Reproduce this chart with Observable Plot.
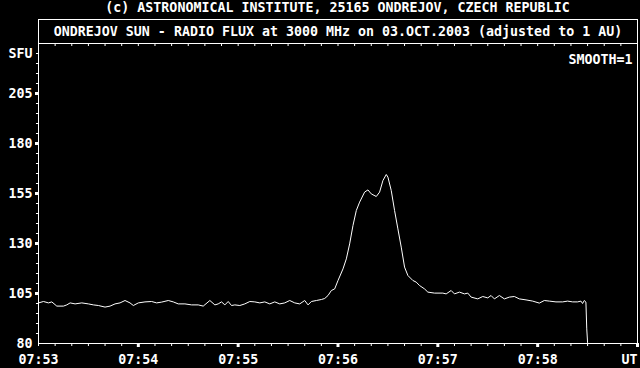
<!DOCTYPE html>
<html><head><meta charset="utf-8">
<script src="https://cdn.jsdelivr.net/npm/d3@7"></script>
<script src="https://cdn.jsdelivr.net/npm/@observablehq/plot@0.6"></script>
<style>
html,body{margin:0;padding:0;background:#000;}
#chart{width:640px;height:368px;background:#000;color:#fff;font-family:"DejaVu Sans Mono",monospace;font-weight:bold;font-size:13.3px;overflow:hidden}
#title{height:19px;line-height:16px;text-align:center;padding-left:38px;padding-right:3px;white-space:pre}
#sub{margin-left:38px;width:598px;height:23px;border:1px solid #fff;border-bottom:none;line-height:23px;text-align:center;white-space:pre}
svg{display:block}
</style>
</head><body>
<div id="chart">
<div id="title">(c) ASTRONOMICAL INSTITUTE, 25165 ONDREJOV, CZECH REPUBLIC</div>
<div id="sub">ONDREJOV SUN - RADIO FLUX at 3000 MHz on 03.OCT.2003 (adjusted to 1 AU)</div>
</div>
<script>
// seconds after 07:53:00 UT
const seconds = [0,3,6,8,11,15,17,19,22,26,30,33,36,40,43,46,49,52,55,57,60,64,68,71,74,78,81,84,88,92,96,99,103,106,108,110,112,114,116,118,121,124,127,130,133,136,139,142,145,148,151,154,157,160,162,164,167,170,172,174,176,178,180,183,185,187,189,191,193,196,198,200,203,205,207,209,210,212,214,216,218,220,222,225,227,229,232,234,238,243,245,248,250,253,256,258,260,264,267,270,272,274,277,280,283,286,289,293,297,301,304,307,311,315,318,321,324,326,327,328,329,329.5,330];
// flux in SFU
const flux = [100.3,101,100.3,100.8,98.7,98.7,99.3,100.3,99.8,100.3,99.8,99.3,99,98.2,98.7,99.8,100.3,101.5,100.3,99,100.3,100.8,101,100.3,100.7,101.5,100.8,99.8,99.8,99.3,99.3,98.7,101.5,99.3,99.8,100.8,99.3,101,99,99.3,99,99.8,101,100.8,100.3,100.8,99.8,100.8,99.8,100.3,101.5,100.3,99.8,101.5,99.3,101,101.5,102,102.5,104,106.5,107.3,111.5,117.3,122.3,129.8,139,146.5,150.7,155.7,156.8,154.8,153.5,155.7,161.5,164.5,163.2,156.5,146.5,137.3,128.2,118.2,114,111.5,110.7,109,107.3,105.7,105.2,105.2,104.8,106.5,104.8,105.7,104.8,105.2,103.2,102.3,103.5,102.8,104,102.3,104,102.3,103.2,103.5,102.3,101.8,101.2,100.2,101.5,101.2,100.8,100.8,101.2,100.8,100.8,101.2,100,101.5,100.7,87.3,80.5];
const yLabelTicks = [80,105,130,155,180,205,225];
const yMajorTicks = [105,130,155,180,205];
const yMinorTicks = d3.range(85,230,5);
const xLabelMinutes = [53,54,55,56,57,58];
const xMajorMinutes = [54,55,56,57,58,59];
const unitLabel = "SFU";
const timeUnit = "UT";
const smoothLabel = "SMOOTH=1";

const t0 = Date.UTC(2003,9,3,7,53,0);
const T = s => new Date(t0 + s*1000);
const data = seconds.map((s,i) => ({t: T(s), v: flux[i]}));
const minute = m => new Date(Date.UTC(2003,9,3,7,m,0));
const xMinor = d3.range(0, 361, 10).map(T);

const font = {fontSize: 13.3, fontWeight: "bold", fontFamily: "DejaVu Sans Mono"};

const chart = Plot.plot({
  width: 640, height: 325,
  marginLeft: 38, marginRight: 3, marginTop: 0, marginBottom: 25,
  style: {background: "black", color: "white", fontFamily: "DejaVu Sans Mono", fontSize: "13.3px", fontWeight: "bold"},
  x: {type: "utc", domain: [minute(53), minute(59)], label: null},
  y: {domain: [80, 230], label: null},
  marks: [
    Plot.axisY({ticks: yMinorTicks, tickSize: 2, fill: "none", stroke: "white", label: null}),
    Plot.axisY({ticks: yMajorTicks, tickSize: 3, strokeWidth: 3, fill: "none", stroke: "white", label: null}),
    Plot.axisY({ticks: yLabelTicks, tickSize: 0, tickPadding: 6, tickFormat: d => d === 225 ? unitLabel : String(d), fill: "white", label: null, ...font}),
    Plot.axisX({ticks: xMinor, tickSize: 3, fill: "none", stroke: "white", label: null}),
    Plot.axisX({ticks: xMajorMinutes.map(minute), tickSize: 4, strokeWidth: 3, fill: "none", stroke: "white", label: null}),
    Plot.axisX({ticks: xLabelMinutes.map(minute), tickSize: 0, tickPadding: 11, tickFormat: d3.utcFormat("%H:%M"), fill: "white", label: null, ...font}),
    Plot.axisX({anchor: "top", ticks: xMinor, tickSize: -2, fill: "none", stroke: "white", label: null}),
    Plot.text([timeUnit], {text: d => d, frameAnchor: "bottom-right", textAnchor: "end", lineAnchor: "top", dy: 11, fill: "white", ...font}),
    Plot.text([smoothLabel], {text: d => d, frameAnchor: "top-right", textAnchor: "end", lineAnchor: "top", dx: -5, dy: 11, fill: "white", ...font}),
    Plot.line(data, {x: "t", y: "v", stroke: "white", strokeWidth: 1}),
    Plot.frame({stroke: "white"})
  ]
});
document.getElementById("chart").appendChild(chart);
</script>
</body></html>
